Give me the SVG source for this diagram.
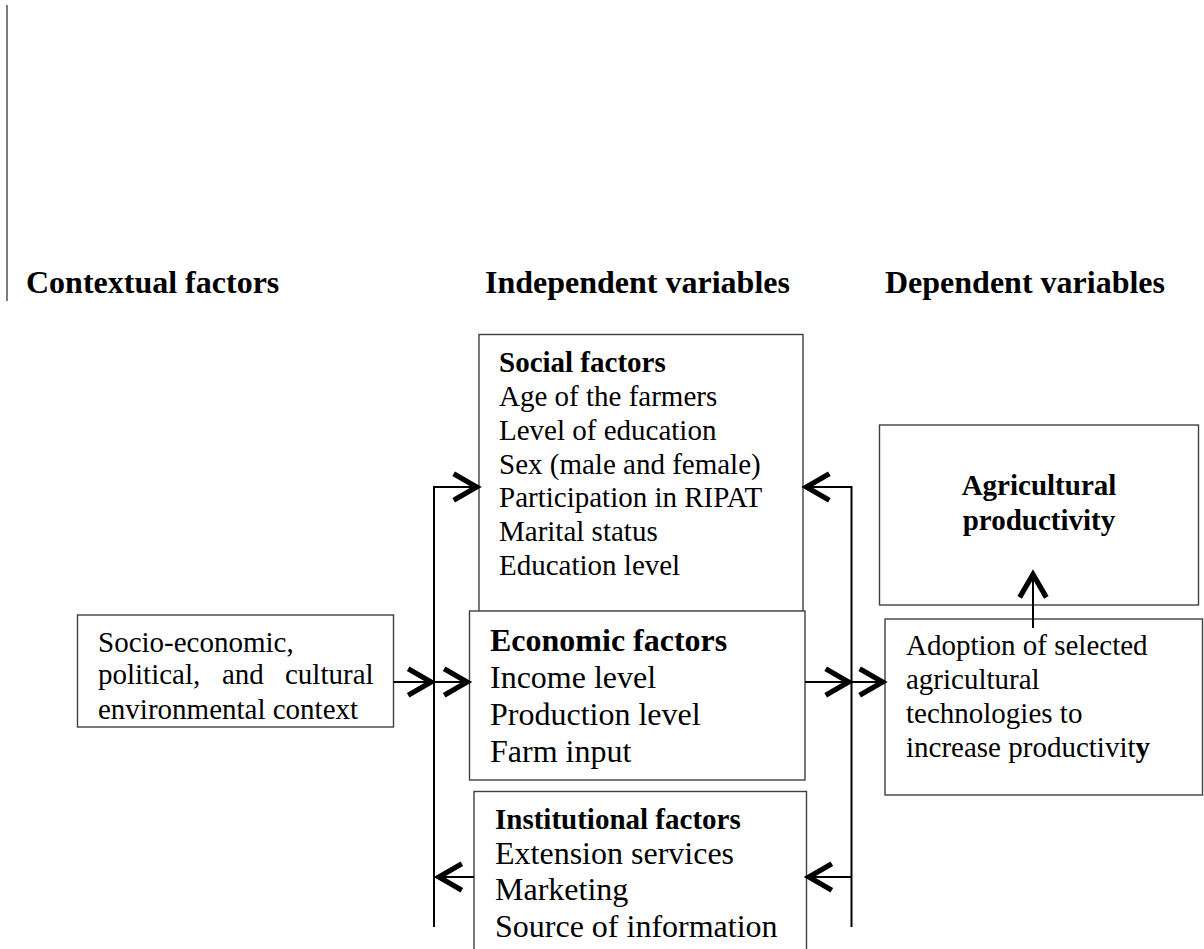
<svg xmlns="http://www.w3.org/2000/svg" width="1204" height="949" viewBox="0 0 1204 949">
<style>
.box{fill:#fff;stroke:#404040;stroke-width:1.4}
.t{font-family:"Liberation Serif","Times New Roman",serif;fill:#000}
.r29{font-size:29px}
.r32{font-size:32px}
.b29{font-size:29px;font-weight:bold}
.b32{font-size:32px;font-weight:bold}
.con{fill:none;stroke:#000;stroke-width:2;marker-end:url(#chev)}
</style>
<defs>
<marker id="chev" markerUnits="userSpaceOnUse" markerWidth="40" markerHeight="40" viewBox="-25 -15 30 30" refX="0" refY="0" orient="auto" overflow="visible">
<path d="M-19,-10 L-1.8,0 L-19,10" fill="none" stroke="#000" stroke-width="3.9"/>
</marker>
</defs>
<rect width="1204" height="949" fill="#fff"/>
<line x1="7" y1="5" x2="7" y2="301" stroke="#444" stroke-width="1.4"/>
<g id="headers">
<text class="t b32" x="26" y="293">Contextual factors</text>
<text class="t b32" x="485" y="293">Independent variables</text>
<text class="t b32" x="885" y="293">Dependent variables</text>
</g>
<g id="social">
<rect class="box" x="479" y="334.5" width="324" height="277"/>
<text class="t b29" x="499" y="372">Social factors</text>
<text class="t r29" x="499" y="405.5">Age of the farmers</text>
<text class="t r29" x="499" y="439.5">Level of education</text>
<text class="t r29" x="499" y="473.5">Sex (male and female)</text>
<text class="t r29" x="499" y="507">Participation in RIPAT</text>
<text class="t r29" x="499" y="541">Marital status</text>
<text class="t r29" x="499" y="575">Education level</text>
</g>
<g id="economic">
<rect class="box" x="469.5" y="611" width="335.5" height="169"/>
<text class="t b32" x="490" y="651">Economic factors</text>
<text class="t r32" x="490" y="687.5">Income level</text>
<text class="t r32" x="490" y="724.5">Production level</text>
<text class="t r32" x="490" y="761.5">Farm input</text>
</g>
<g id="institutional">
<rect class="box" x="474" y="791.5" width="332.5" height="180"/>
<text class="t b29" x="495" y="828.5">Institutional factors</text>
<text class="t r32" x="495" y="863.5">Extension services</text>
<text class="t r32" x="495" y="900">Marketing</text>
<text class="t r32" x="495" y="937">Source of information</text>
</g>
<g id="context">
<rect class="box" x="77.5" y="615" width="316" height="112"/>
<text class="t r29" x="98" y="652">Socio-economic,</text>
<text class="t r29" x="98" y="684">political,</text>
<text class="t r29" x="222" y="684">and</text>
<text class="t r29" x="285" y="684">cultural</text>
<text class="t r29" x="98" y="718.5">environmental context</text>
</g>
<g id="agri">
<rect class="box" x="879.5" y="425" width="319" height="180"/>
<text class="t b29" x="1039" y="495" text-anchor="middle">Agricultural</text>
<text class="t b29" x="1039" y="530" text-anchor="middle">productivity</text>
</g>
<g id="adoption">
<rect class="box" x="885" y="619" width="317.5" height="176"/>
<text class="t r29" x="906" y="655">Adoption of selected</text>
<text class="t r29" x="906" y="689">agricultural</text>
<text class="t r29" x="906" y="723">technologies to</text>
<text class="t r29" x="906" y="757">increase productivit<tspan font-weight="bold">y</tspan></text>
</g>
<g id="connectors">
<path class="con" d="M434,927 V487 H479"/>
<path class="con" d="M474,877 H436.5"/>
<path class="con" d="M393.5,682 H433.5"/>
<path class="con" d="M434,682 H469.5"/>
<path class="con" d="M851.5,927 V487 H804"/>
<path class="con" d="M851.5,877 H806.5"/>
<path class="con" d="M805,682 H851"/>
<path class="con" d="M851.5,682 H885"/>
<path class="con" d="M1033,628 V572"/>
</g>
</svg>
